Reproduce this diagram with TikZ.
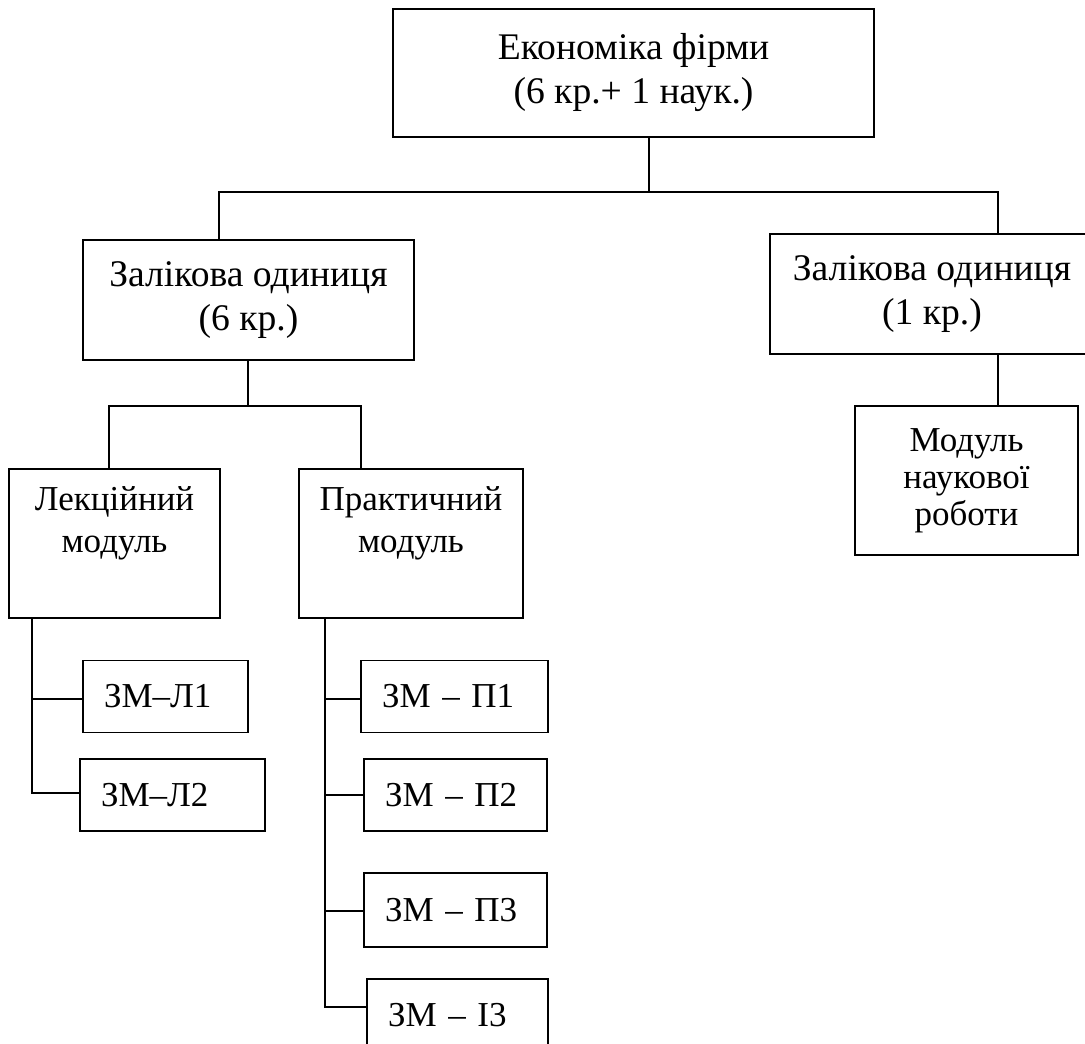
\documentclass[tikz,border=0pt]{standalone}
\usepackage{fontspec}
\setmainfont{Liberation Serif}
\begin{document}
\begin{tikzpicture}[scale=1.0, x=1pt, y=-1pt,
		box/.style={draw=black, line width=1.5pt, inner sep=0pt, align=center, font=\fontsize{35}{42}\selectfont},
		unitbox/.style={box, font=\fontsize{37.6}{44}\selectfont},
		zm/.style={box, align=left, inner xsep=21pt, minimum height=72pt},
		link/.style={draw=black, line width=1.5pt}]
			\useasboundingbox (0,0) rectangle (1085,1044);
			\node[unitbox, minimum width=481pt, minimum height=128pt] (firm) at (633.5,73) {Економіка фірми\\(6 кр.+ 1 наук.)};
			\node[unitbox, minimum width=331pt, minimum height=120pt] (unitsix) at (248.5,300) {Залікова одиниця\\(6 кр.)};
			\node[unitbox, minimum width=324pt, minimum height=120pt] (unitone) at (932,294) {Залікова одиниця\\(1 кр.)};
			\node[box, minimum width=211pt, minimum height=149pt] (lect) at (114.5,543.5) {};
			\node[box, draw=none, anchor=north, inner ysep=18pt] (lecttext) at (lect.north) {Лекційний\\модуль};
			\node[box, minimum width=224pt, minimum height=149pt] (pract) at (411,543.5) {};
			\node[box, draw=none, anchor=north, inner ysep=18pt] (practtext) at (pract.north) {Практичний\\модуль};
			\node[box, minimum width=223pt, minimum height=149pt, font=\fontsize{35}{37}\selectfont] (research) at (966.5,480.5) {Модуль\\наукової\\роботи};
			\node[zm, text width=123pt] (zmla) at (165.5,696.5) {ЗМ–Л1};
			\node[zm, text width=143pt] (zmlb) at (172.5,795) {ЗМ–Л2};
			\node[zm, text width=145pt] (zmpa) at (454.5,696.5) {ЗМ – П1};
			\node[zm, text width=141pt] (zmpb) at (455.5,795) {ЗМ – П2};
			\node[zm, text width=141pt, minimum height=74pt] (zmpc) at (455.5,910) {ЗМ – П3};
			\node[zm, text width=139pt] (zmic) at (457.5,1015) {ЗМ – І3};
			\coordinate (busL) at (219,192);
			\coordinate (busM) at (649,192);
			\coordinate (busR) at (998,192);
			\coordinate (modL) at (109,406);
			\coordinate (modM) at (248,406);
			\coordinate (modR) at (361,406);
			\coordinate (trunkL) at (32,0);
			\coordinate (trunkP) at (325,0);
			\draw[link] (busM |- firm.south) -- (busM);
			\draw[link] (busL |- unitsix.north) -- (busL) -- (busR) -- (busR |- unitone.north);
			\draw[link] (busR |- unitone.south) -- (busR |- research.north);
			\draw[link] (modM |- unitsix.south) -- (modM);
			\draw[link] (modL |- lect.north) -- (modL) -- (modR) -- (modR |- pract.north);
			\draw[link] (trunkL |- lect.south) |- ([yshift=2pt]zmlb.west);
			\draw[link] (trunkL |- zmla.west) ++(0,2.5) -- ([yshift=-2.5pt]zmla.west);
			\draw[link] (trunkP |- pract.south) |- ([yshift=8pt]zmic.west);
			\draw[link] (trunkP |- zmpa.west) ++(0,2.5) -- ([yshift=-2.5pt]zmpa.west);
			\draw[link] (trunkP |- zmpb.west) -- (zmpb.west);
			\draw[link] (trunkP |- zmpc.west) ++(0,1) -- ([yshift=-1pt]zmpc.west);
		\end{tikzpicture}
\end{document}
